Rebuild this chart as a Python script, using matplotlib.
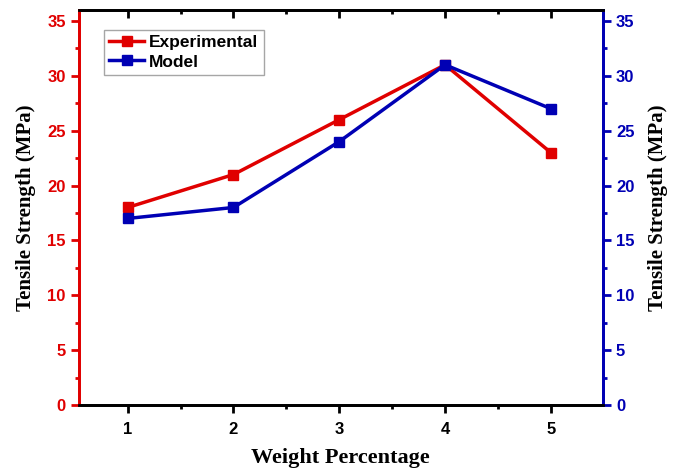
import numpy as np
import matplotlib
matplotlib.use('Agg')
import matplotlib.pyplot as plt
from matplotlib.ticker import MultipleLocator

# data
weight = [1, 2, 3, 4, 5]
experimental = [18, 21, 26, 31, 23]
model = [17, 18, 24, 31, 27]
yticks = [0, 5, 10, 15, 20, 25, 30, 35]

RED = '#e00000'
BLUE = '#0000b4'

plt.rcParams['font.family'] = 'Liberation Sans'
plt.rcParams['font.weight'] = 'bold'

fig = plt.figure(figsize=(6.81, 4.71), dpi=100)
ax = fig.add_axes([0.116, 0.140, 0.769, 0.839])
ax2 = ax.twinx()

l1, = ax.plot(weight, experimental, '-s', color=RED, lw=2.5, ms=6.5, label='Experimental')
l2, = ax2.plot(weight, model, '-s', color=BLUE, lw=2.5, ms=6.5, label='Model')

for a in (ax, ax2):
    a.set_ylim(0, 36)
    a.set_yticks(yticks)
    a.yaxis.set_minor_locator(MultipleLocator(2.5))
ax.set_xlim(0.54, 5.49)
ax.set_xticks(weight)
ax.xaxis.set_minor_locator(MultipleLocator(0.5))

for s in ('left', 'right', 'top', 'bottom'):
    ax.spines[s].set_linewidth(2)
    ax2.spines[s].set_linewidth(2)
ax.spines['left'].set_color(RED)
ax2.spines['left'].set_color(RED)
ax2.spines['right'].set_color(BLUE)
ax.spines['right'].set_color(BLUE)

ax.tick_params(axis='x', which='both', top=True, direction='out', width=2, labelsize=12, pad=6)
ax.tick_params(axis='x', which='major', length=6)
ax.tick_params(axis='x', which='minor', length=3)
ax.tick_params(axis='y', which='both', colors=RED, width=2, labelsize=12)
ax.tick_params(axis='y', which='major', length=6)
ax.tick_params(axis='y', which='minor', length=3)
ax2.tick_params(axis='y', which='both', colors=BLUE, width=2, labelsize=12)
ax2.tick_params(axis='y', which='major', length=6)
ax2.tick_params(axis='y', which='minor', length=3)
# top ticks point inward
for t in ax.xaxis.get_major_ticks() + ax.xaxis.get_minor_ticks():
    t.tick2line.set_marker(3)

ax.set_xlabel('Weight Percentage', family='Liberation Serif', fontsize=16,
              fontweight='bold', labelpad=8)
ax.set_ylabel('Tensile Strength (MPa)', family='Liberation Serif', fontsize=15,
              fontweight='bold', labelpad=8)
ax2.set_ylabel('Tensile Strength (MPa)', family='Liberation Serif', fontsize=15,
               fontweight='bold', labelpad=10)

leg = ax2.legend([l1, l2], ['Experimental', 'Model'], loc='upper left',
                 bbox_to_anchor=(0.048, 0.95), fontsize=12.5, fancybox=False,
                 edgecolor='#909090', handlelength=2.0, handletextpad=0.3,
                 borderpad=0.3, labelspacing=0.25, borderaxespad=0)
leg.get_frame().set_linewidth(1)

fig.savefig('out.png', dpi=100)
